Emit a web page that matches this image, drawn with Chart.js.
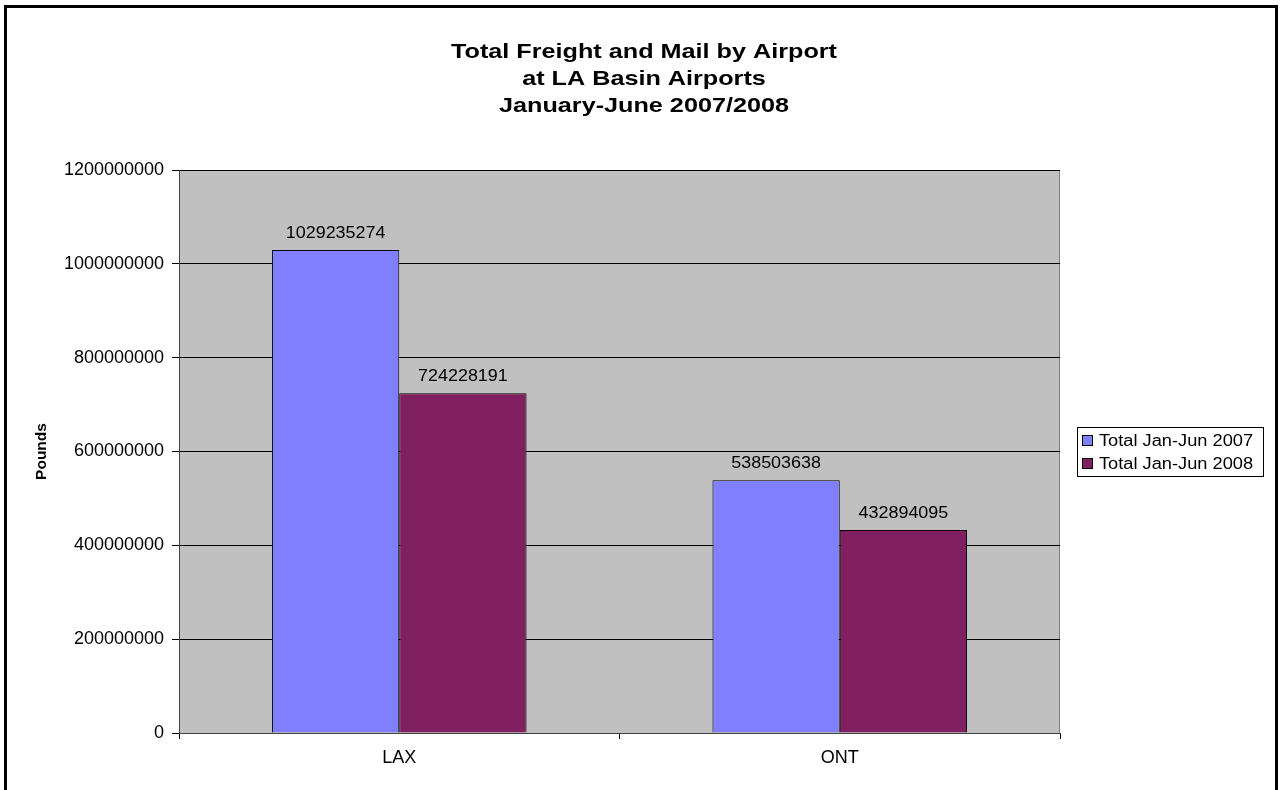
<!DOCTYPE html>
<html>
<head>
<meta charset="utf-8">
<script src="https://cdn.jsdelivr.net/npm/chart.js@4/dist/chart.umd.min.js"></script>
<style>
  html, body { margin: 0; padding: 0; background: #fff; }
  #wrap { width: 1282px; height: 790px; position: relative; }
</style>
</head>
<body>
<div id="wrap"><canvas id="chart" width="1282" height="790"></canvas></div>
<script>
// chart data
const airports = ['LAX', 'ONT'];
const total2007 = [1029235274, 538503638];
const total2008 = [724228191, 432894095];
const seriesNames = ['Total Jan-Jun 2007', 'Total Jan-Jun 2008'];
const titleLines = ['Total Freight and Mail by Airport', 'at LA Basin Airports', 'January-June 2007/2008'];
const yMax = 1200000000;
const yStep = 200000000;

const FONT = 'Arial, "Liberation Sans", sans-serif';
const colors = ['#8080FF', '#802060'];

// the original picture is a little wider than tall, so text is stretched sideways
function wideText(ctx, text, x, y, sx) {
    ctx.save();
    ctx.translate(x, y);
    ctx.scale(sx, 1);
    ctx.fillText(text, 0, 0);
    ctx.restore();
}

// frame, plot background, title, data labels, legend
const decorations = {
    id: 'decorations',
    beforeDraw(chart) {
        const ctx = chart.ctx;
        const a = chart.chartArea;
        ctx.save();
        ctx.fillStyle = '#fff';
        ctx.fillRect(0, 0, chart.width, chart.height);
        ctx.fillStyle = '#C0C0C0';
        ctx.fillRect(a.left, a.top, a.right - a.left, a.bottom - a.top);
        ctx.strokeStyle = '#808080';
        ctx.lineWidth = 1;
        ctx.beginPath();
        ctx.moveTo(a.left, a.top + 0.5);
        ctx.lineTo(a.right - 0.5, a.top + 0.5);
        ctx.lineTo(a.right - 0.5, a.bottom);
        ctx.stroke();
        ctx.restore();
    },
    afterDraw(chart) {
        const ctx = chart.ctx;
        ctx.save();
        // outer border
        ctx.strokeStyle = '#000';
        ctx.lineWidth = 3;
        ctx.strokeRect(5.5, 6.5, 1271, 800);

        // title
        ctx.fillStyle = '#000';
        ctx.font = 'bold 21px ' + FONT;
        ctx.textAlign = 'center';
        ctx.textBaseline = 'alphabetic';
        titleLines.forEach((t, i) => wideText(ctx, t, 644, 58 + i * 27, 1.2));

        // value labels above bars
        ctx.font = '16px ' + FONT;
        chart.data.datasets.forEach((ds, di) => {
            chart.getDatasetMeta(di).data.forEach((bar, i) => {
                wideText(ctx, String(ds.data[i]), bar.x, bar.y - 12, 1.12);
            });
        });

        // legend
        const lx = 1077.5, ly = 427.5, lw = 186, lh = 49;
        ctx.fillStyle = '#fff';
        ctx.fillRect(lx, ly, lw, lh);
        ctx.strokeStyle = '#000';
        ctx.lineWidth = 1;
        ctx.strokeRect(lx, ly, lw, lh);
        ctx.textAlign = 'left';
        ctx.font = '16px ' + FONT;
        seriesNames.forEach((name, i) => {
            const cy = 440 + i * 23;
            ctx.fillStyle = colors[i];
            ctx.fillRect(1082.5, cy - 4.5, 10, 10);
            ctx.strokeRect(1082.5, cy - 4.5, 10, 10);
            ctx.fillStyle = '#000';
            wideText(ctx, name, 1099, cy + 6, 1.14);
        });
        ctx.restore();
    }
};

new Chart(document.getElementById('chart'), {
    type: 'bar',
    data: {
        labels: airports,
        datasets: [
            { label: seriesNames[0], data: total2007, backgroundColor: colors[0] },
            { label: seriesNames[1], data: total2008, backgroundColor: colors[1] }
        ].map(ds => Object.assign(ds, {
            borderColor: '#000',
            borderWidth: 1,
            borderSkipped: 'bottom',
            barPercentage: 1,
            categoryPercentage: 0.578
        }))
    },
    options: {
        responsive: false,
        animation: false,
        devicePixelRatio: 1,
        layout: { padding: { left: 0, top: 170, right: 222, bottom: 0 } },
        plugins: {
            legend: { display: false },
            title: { display: false },
            tooltip: { enabled: false }
        },
        scales: {
            x: {
                offset: true,
                grid: {
                    offset: true,
                    drawOnChartArea: false,
                    drawTicks: true,
                    tickLength: 6,
                    color: '#000'
                },
                border: { color: '#404040', width: 1 },
                ticks: { color: '#000', font: { family: FONT, size: 18 }, padding: 8 },
                afterFit(scale) { scale.height = 57; }
            },
            y: {
                min: 0,
                max: yMax,
                grid: { color: '#000', tickLength: 7, lineWidth: 1 },
                border: { color: '#404040', width: 1 },
                ticks: {
                    stepSize: yStep,
                    color: '#000',
                    font: { family: FONT, size: 18 },
                    padding: 8,
                    callback: v => String(v)
                },
                title: {
                    display: true,
                    text: 'Pounds',
                    color: '#000',
                    font: { family: FONT, size: 15.5, weight: 'bold' },
                    padding: { top: 32, bottom: 0 }
                },
                afterFit(scale) { scale.width = 179; }
            }
        }
    },
    plugins: [decorations]
});
</script>
</body>
</html>
